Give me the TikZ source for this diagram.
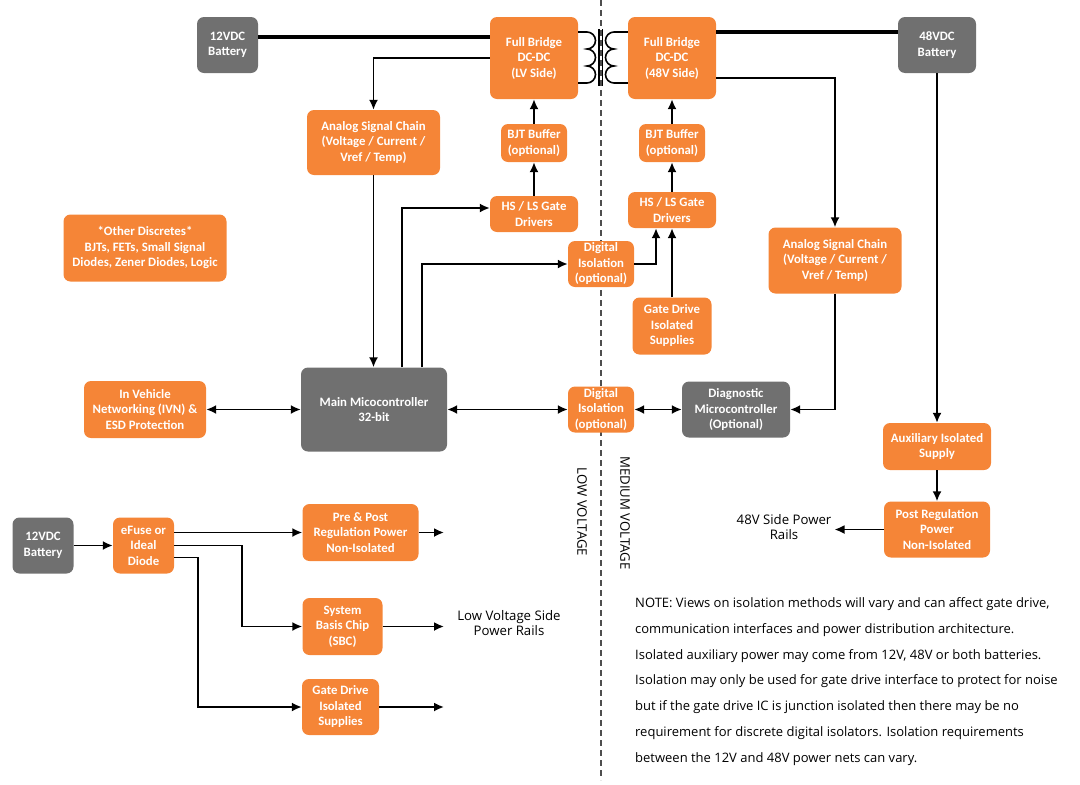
\documentclass[tikz,border=0pt]{standalone}
\usepackage{fontspec}
\usetikzlibrary{arrows.meta}
\newfontfamily\boxfont{Carlito}
\newfontfamily\notefont{Open Sans}
\definecolor{boxorange}{RGB}{245,133,55}
\definecolor{boxgray}{RGB}{112,112,112}
\newcommand{\fbw}{88pt}

\begin{document}
\begin{tikzpicture}[x=1pt, y=-1pt,
    rect/.style={rectangle, rounded corners=7pt, fill=boxorange, text=white, align=center, inner sep=0pt, font=\boxfont\bfseries\fontsize{12.8}{15.5}\selectfont},
    grect/.style={rect, fill=boxgray},
    conn/.style={line width=1.8pt, -{Latex[length=10pt,width=9pt]}},
    both/.style={line width=1.8pt, {Latex[length=10pt,width=9pt]}-{Latex[length=10pt,width=9pt]}},
    rail/.style={line width=4.5pt},
    coil/.style={line width=1.6pt},
    lbl/.style={font=\notefont\fontsize{13.2}{15.5}\selectfont, align=center, inner sep=3pt}]
    \useasboundingbox (0,0) rectangle (1080,785);

    % Isolation barrier
    \draw[boxgray!70!black, line width=1.4pt, dash pattern=on 6pt off 4pt] (601,0) -- (601,780);

    % Top row
    \node[grect, minimum width=61pt, minimum height=56pt] (bat-12) at (227.5,45) {12VDC\\Battery};
    \node[rect, minimum width=\fbw, minimum height=82pt] (fb-lv) at (534,58) {Full Bridge\\DC-DC\\(LV Side)};
    \node[rect, minimum width=\fbw, minimum height=82pt] (fb-mv) at (672,58) {Full Bridge\\DC-DC\\(48V Side)};
    \node[grect, minimum width=78pt, minimum height=56pt] (bat-48) at (937,45) {48VDC\\Battery};

    % Gate drive path
    \node[rect, minimum width=133pt, minimum height=65pt] (asc-lv) at (373.5,142.5) {Analog Signal Chain\\(Voltage / Current /\\Vref / Temp)};
    \node[rect, minimum width=66pt, minimum height=38pt] (bjt-lv) at (534,143) {BJT Buffer\\(optional)};
    \node[rect, minimum width=66pt, minimum height=38pt] (bjt-mv) at (672,143) {BJT Buffer\\(optional)};
    \node[rect, minimum width=\fbw, minimum height=36pt] (hs-lv) at (534,214) {HS / LS Gate\\Drivers};
    \node[rect, minimum width=\fbw, minimum height=36pt] (hs-mv) at (672,210) {HS / LS Gate\\Drivers};
    \node[rect, minimum width=66pt, minimum height=46pt] (diso-top) at (601,264) {Digital\\Isolation\\(optional)};
    \node[rect, minimum width=79pt, minimum height=57pt] (gdis-mv) at (672,326) {Gate Drive\\Isolated\\Supplies};
    \node[rect, minimum width=163pt, minimum height=67pt] (disc) at (145,248) {*Other Discretes*\\BJTs, FETs, Small Signal\\Diodes, Zener Diodes, Logic};
    \node[rect, minimum width=133pt, minimum height=66pt] (asc-mv) at (835,260.5) {Analog Signal Chain\\(Voltage / Current /\\Vref / Temp)};

    % Control row
    \node[rect, minimum width=122pt, minimum height=57pt] (ivn) at (145,409.5) {In Vehicle\\Networking (IVN) \&\\ESD Protection};
    \node[grect, minimum width=146pt, minimum height=84pt] (mcu) at (374,409.5) {Main Micocontroller\\32-bit};
    \node[rect, minimum width=66pt, minimum height=46pt] (diso-bot) at (601,409.5) {Digital\\Isolation\\(optional)};
    \node[grect, minimum width=108pt, minimum height=56pt] (diag) at (736,409.5) {Diagnostic\\Microcontroller\\(Optional)};
    \node[rect, minimum width=108pt, minimum height=47pt] (aux) at (937,446.5) {Auxiliary Isolated\\Supply};
    \node[rect, minimum width=106pt, minimum height=56pt] (postreg) at (937,529.5) {Post Regulation\\Power\\Non-Isolated};

    % Low voltage supply
    \node[grect, minimum width=61pt, minimum height=56pt] (bat-12b) at (43,545.5) {12VDC\\Battery};
    \node[rect, minimum width=61pt, minimum height=56pt] (efuse) at (143.5,545.5) {eFuse or\\Ideal\\Diode};
    \node[rect, minimum width=116pt, minimum height=57pt] (prepost) at (360.5,532.5) {Pre \& Post\\Regulation Power\\Non-Isolated};
    \node[rect, minimum width=80pt, minimum height=57pt] (sbc) at (342.5,626.5) {System\\Basis Chip\\(SBC)};
    \node[rect, minimum width=77pt, minimum height=56pt] (gdis-lv) at (340.5,707) {Gate Drive\\Isolated\\Supplies};

    % Labels
    \node[lbl] (lv-rails) at (509,623) {Low Voltage Side\\Power Rails};
    \node[lbl] (mv-rails) at (784,527) {48V Side Power\\Rails};
    \node[lbl, rotate=-90] (lv-tag) at (582,512) {LOW VOLTAGE};
    \node[lbl, rotate=-90] (mv-tag) at (625,513) {MEDIUM VOLTAGE};
    \coordinate (lv-out) at (444,626);
    \node[anchor=west, align=left, inner sep=0pt, font=\notefont\fontsize{13}{25.8}\selectfont] (note) at (635,681.5) {NOTE: Views on isolation methods will vary and can affect gate drive,\\communication interfaces and power distribution architecture.\\Isolated auxiliary power may come from 12V, 48V or both batteries.\\Isolation may only be used for gate drive interface to protect for noise\\but if the gate drive IC is junction isolated then there may be no\\requirement for discrete digital isolators. Isolation requirements\\between the 12V and 48V power nets can vary.};

    % Power rails and transformer
    \draw[rail] ([yshift=8pt]bat-12.east) -- ([yshift=21pt]fb-lv.west);
    \draw[rail] ([yshift=26pt]fb-mv.east) -- ([yshift=13pt]bat-48.west);
    \draw[coil] (fb-lv.east |- 0,32) -- (587,32)
        arc[start angle=-90, end angle=90, radius=8.5]
        arc[start angle=-90, end angle=90, radius=8.5]
        arc[start angle=-90, end angle=90, radius=8.5] -- (fb-lv.east |- 0,83);
    \draw[coil] (fb-mv.west |- 0,32) -- (614,32)
        arc[start angle=-90, end angle=-270, radius=8.5]
        arc[start angle=-90, end angle=-270, radius=8.5]
        arc[start angle=-90, end angle=-270, radius=8.5] -- (fb-mv.west |- 0,83);
    \draw[coil] (598.8,29) -- (598.8,86);
    \draw[coil] (602.6,29) -- (602.6,86);

    % Signal connectors
    \draw[conn] (fb-lv.west) -| (asc-lv.north);
    \draw[conn] ([yshift=-20pt]fb-mv.east) -| (asc-mv.north);
    \draw[conn] (bjt-lv.north) -- (fb-lv.south);
    \draw[conn] (hs-lv.north) -- (bjt-lv.south);
    \draw[conn] (bjt-mv.north) -- (fb-mv.south);
    \draw[conn] (hs-mv.north) -- (bjt-mv.south);
    \draw[conn] (asc-lv.south) -- (asc-lv.south |- mcu.north);
    \draw[conn] ([xshift=28pt]mcu.north) |- ([yshift=6pt]hs-lv.west);
    \draw[conn] ([xshift=48pt]mcu.north) |- (diso-top.west);
    \draw[conn] (diso-top.east) -| ([xshift=-16pt]hs-mv.south);
    \draw[conn] (gdis-mv.north) -- (hs-mv.south);
    \draw[both] (ivn.east) -- (mcu.west);
    \draw[both] (mcu.east) -- (diso-bot.west);
    \draw[both] (diso-bot.east) -- (diag.west);
    \draw[conn] (asc-mv.south) |- (diag.east);
    \draw[conn] (bat-48.south) -- (aux.north);
    \draw[conn] (aux.south) -- (postreg.north);
    \draw[conn] (postreg.west) -- (mv-rails.east |- postreg.west);

    % Supply connectors
    \draw[conn] (bat-12b.east) -- (efuse.west);
    \draw[conn] (prepost.west -| efuse.east) -- (prepost.west);
    \draw[conn] (efuse.east) -| ([xshift=-60pt]sbc.west) -- (sbc.west);
    \draw[conn] ([yshift=-12pt]efuse.east) -| ([xshift=-104pt]gdis-lv.west) -- (gdis-lv.west);
    \draw[conn] (prepost.east) -- (prepost.east -| lv-out);
    \draw[conn] (sbc.east) -- (sbc.east -| lv-out);
    \draw[conn] (gdis-lv.east) -- (gdis-lv.east -| lv-out);
\end{tikzpicture}
\end{document}
